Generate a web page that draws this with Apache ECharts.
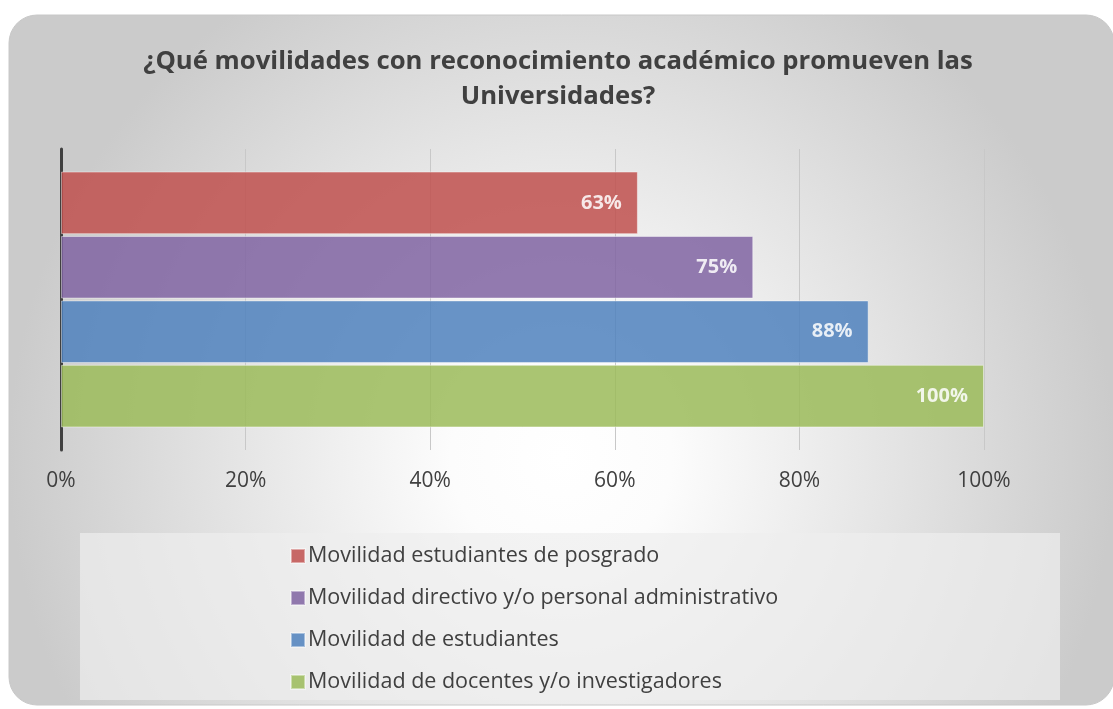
<!DOCTYPE html>
<html>
<head>
<meta charset="utf-8">
<title>Movilidades con reconocimiento académico</title>
<script src="https://cdn.jsdelivr.net/npm/echarts@6/dist/echarts.min.js"></script>
<style>
  html, body { margin: 0; padding: 0; background: #fff; }
  #chart { width: 1113px; height: 709px; }
</style>
</head>
<body>
<div id="chart"></div>
<script>
// datos
const seriesNames = [
  "Movilidad estudiantes de posgrado",
  "Movilidad directivo y/o personal administrativo",
  "Movilidad de estudiantes",
  "Movilidad de docentes y/o investigadores",
];
const seriesValues = [62.5, 75, 87.5, 100];
const seriesColors = ["#c0504d", "#8064a2", "#4f81bd", "#9bbb59"];
const category = ["Universidades"];
const xTicks = [0, 20, 40, 60, 80, 100];

const chart = echarts.init(document.getElementById("chart"));

const series = seriesNames.map((name, i) => ({
  name: name,
  type: "bar",
  barGap: "3%",
  barCategoryGap: "15%",
  data: [seriesValues[i]],
  itemStyle: {
    color: seriesColors[i],
    opacity: 0.85,
    borderColor: "rgba(255,255,255,0.5)",
    borderWidth: 1,
  },
  label: {
    show: true,
    position: "insideRight",
    distance: 16,
    color: "#fff",
    fontWeight: "bold",
    fontSize: 20,
    fontFamily: "Open Sans",
    formatter: (p) => Math.round(p.value) + "%",
  },
}));

const options = {
  backgroundColor: "#fff",
  animation: false,
  graphic: [
    {
      type: "rect",
      z: -10,
      shape: { x: 9, y: 15, width: 1105, height: 690, r: 28 },
      style: {
        fill: new echarts.graphic.RadialGradient(0.5, 0.64, 0.8, [
          { offset: 0, color: "#ffffff" },
          { offset: 0.2, color: "#fcfcfc" },
          { offset: 0.6, color: "#e4e4e4" },
          { offset: 1, color: "#cbcbcb" },
        ]),
        stroke: "#c8c8c8",
        lineWidth: 1,
      },
    },
    {
      type: "rect",
      z: -9,
      shape: { x: 80, y: 533, width: 980, height: 167 },
      style: { fill: "rgba(238,238,238,0.7)" },
    },
  ],
  title: {
    text: "¿Qué movilidades con reconocimiento académico promueven las\nUniversidades?",
    left: 553,
    textAlign: "center",
    top: 39,
    textStyle: {
      fontFamily: "Open Sans",
      fontSize: 25.7,
      fontWeight: "bold",
      color: "#404040",
      lineHeight: 35,
    },
  },
  legend: {
    orient: "vertical",
    left: 290,
    top: 544,
    padding: 0,
    height: 165,
    itemWidth: 14,
    itemHeight: 14,
    itemGap: 18,
    icon: "rect",
    data: seriesNames,
    textStyle: {
      fontFamily: "Open Sans",
      fontSize: 21.5,
      color: "#404040",
      lineHeight: 24,
      padding: [0, 0, 0, -2],
    },
  },
  grid: {
    left: 61,
    right: 129,
    top: 149,
    height: 301,
  },
  xAxis: {
    type: "value",
    min: 0,
    max: 100,
    interval: 20,
    axisLine: { show: false },
    axisTick: { show: false },
    axisLabel: {
      margin: 21,
      fontFamily: "Open Sans",
      fontSize: 21,
      color: "#404040",
      formatter: (v) => (xTicks.indexOf(v) >= 0 ? v + "%" : ""),
    },
    splitLine: {
      lineStyle: { color: "#c8c8c8", width: 1 },
    },
  },
  yAxis: {
    type: "category",
    inverse: true,
    data: category,
    axisLine: { lineStyle: { color: "#404040", width: 3 } },
    axisTick: { show: false },
    axisLabel: { show: false },
  },
  series: series,
};

chart.setOption(options);
</script>
</body>
</html>
